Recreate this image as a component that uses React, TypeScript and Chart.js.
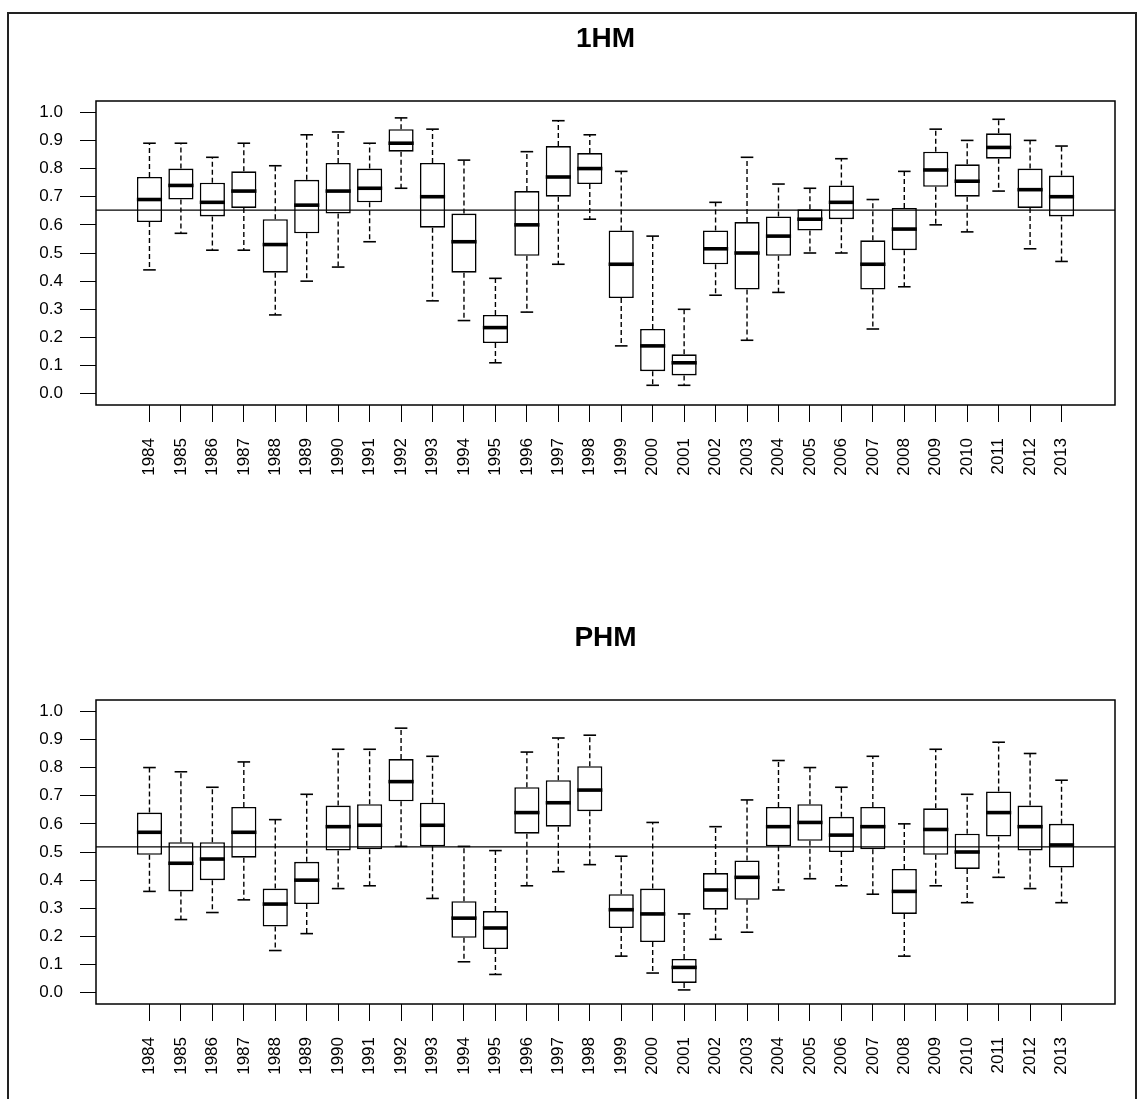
import React, { useEffect, useRef } from "react";
import { Chart, registerables } from "chart.js";

Chart.register(...registerables);

const years = [
  "1984", "1985", "1986", "1987", "1988", "1989", "1990", "1991", "1992", "1993",
  "1994", "1995", "1996", "1997", "1998", "1999", "2000", "2001", "2002", "2003",
  "2004", "2005", "2006", "2007", "2008", "2009", "2010", "2011", "2012", "2013",
];
const yTicks = [0, 0.1, 0.2, 0.3, 0.4, 0.5, 0.6, 0.7, 0.8, 0.9, 1.0];

// 1HM
const hmMin = [0.44, 0.57, 0.51, 0.51, 0.28, 0.40, 0.45, 0.54, 0.73, 0.33, 0.26, 0.11, 0.29, 0.46, 0.62, 0.17, 0.03, 0.03, 0.35, 0.19, 0.36, 0.50, 0.50, 0.23, 0.38, 0.60, 0.575, 0.72, 0.515, 0.47];
const hmQ1 = [0.61, 0.69, 0.63, 0.66, 0.43, 0.57, 0.64, 0.68, 0.86, 0.59, 0.43, 0.18, 0.49, 0.70, 0.745, 0.34, 0.08, 0.065, 0.46, 0.37, 0.49, 0.58, 0.62, 0.37, 0.51, 0.735, 0.70, 0.835, 0.66, 0.63];
const hmMed = [0.69, 0.74, 0.68, 0.72, 0.53, 0.67, 0.72, 0.73, 0.89, 0.70, 0.54, 0.235, 0.60, 0.77, 0.80, 0.46, 0.17, 0.11, 0.515, 0.50, 0.56, 0.62, 0.68, 0.46, 0.585, 0.795, 0.755, 0.875, 0.725, 0.70];
const hmQ3 = [0.77, 0.80, 0.75, 0.79, 0.62, 0.76, 0.82, 0.80, 0.94, 0.82, 0.64, 0.28, 0.72, 0.88, 0.855, 0.58, 0.23, 0.14, 0.58, 0.61, 0.63, 0.655, 0.74, 0.545, 0.66, 0.86, 0.815, 0.925, 0.80, 0.775];
const hmMax = [0.89, 0.89, 0.84, 0.89, 0.81, 0.92, 0.93, 0.89, 0.98, 0.94, 0.83, 0.41, 0.86, 0.97, 0.92, 0.79, 0.56, 0.30, 0.68, 0.84, 0.745, 0.73, 0.835, 0.69, 0.79, 0.94, 0.90, 0.975, 0.90, 0.88];
const hmRef = 0.652;

// PHM
const phMin = [0.36, 0.26, 0.285, 0.33, 0.15, 0.21, 0.37, 0.38, 0.52, 0.335, 0.11, 0.065, 0.38, 0.43, 0.455, 0.13, 0.07, 0.01, 0.19, 0.215, 0.365, 0.405, 0.38, 0.35, 0.13, 0.38, 0.32, 0.41, 0.37, 0.32];
const phQ1 = [0.49, 0.36, 0.40, 0.48, 0.235, 0.315, 0.505, 0.51, 0.68, 0.52, 0.195, 0.155, 0.565, 0.59, 0.645, 0.23, 0.18, 0.035, 0.295, 0.33, 0.52, 0.54, 0.50, 0.51, 0.28, 0.49, 0.44, 0.555, 0.505, 0.445];
const phMed = [0.57, 0.46, 0.475, 0.57, 0.315, 0.40, 0.59, 0.595, 0.75, 0.595, 0.265, 0.23, 0.64, 0.675, 0.72, 0.295, 0.28, 0.09, 0.365, 0.41, 0.59, 0.605, 0.56, 0.59, 0.36, 0.58, 0.50, 0.64, 0.59, 0.525];
const phQ3 = [0.64, 0.535, 0.535, 0.66, 0.37, 0.465, 0.665, 0.67, 0.83, 0.675, 0.325, 0.29, 0.73, 0.755, 0.805, 0.35, 0.37, 0.12, 0.425, 0.47, 0.66, 0.67, 0.625, 0.66, 0.44, 0.655, 0.565, 0.715, 0.665, 0.60];
const phMax = [0.80, 0.785, 0.73, 0.82, 0.615, 0.705, 0.865, 0.865, 0.94, 0.84, 0.52, 0.505, 0.855, 0.905, 0.915, 0.485, 0.605, 0.28, 0.59, 0.685, 0.825, 0.80, 0.73, 0.84, 0.60, 0.865, 0.705, 0.89, 0.85, 0.755];
const phRef = 0.518;

const xMin = -0.7;
const xMax = 31.7;
const yMin = -0.04;
const yMax = 1.04;

const FONT = "'Liberation Sans', Arial, Helvetica, sans-serif";

const framePlugin = {
  id: "frame",
  afterDatasetsDraw(chart: any) {
    const { ctx, chartArea } = chart;
    ctx.save();
    ctx.strokeStyle = "#000";
    ctx.lineWidth = 1.5;
    ctx.strokeRect(chartArea.left, chartArea.top, chartArea.right - chartArea.left, chartArea.bottom - chartArea.top);
    ctx.restore();
  },
};

type PanelProps = {
  title: string;
  mins: number[];
  q1s: number[];
  meds: number[];
  q3s: number[];
  maxs: number[];
  refValue: number;
  top: number;
};

function BoxPanel({ title, mins, q1s, meds, q3s, maxs, refValue, top }: PanelProps) {
  const ref = useRef<HTMLCanvasElement>(null);
  useEffect(() => {
    if (!ref.current) return;
    const positions = years.map((_, i) => i + 1);
    const whiskers: any[] = [];
    positions.forEach((x, i) => {
      whiskers.push({ x, y: q3s[i] }, { x, y: maxs[i] }, { x, y: null });
      whiskers.push({ x, y: q1s[i] }, { x, y: mins[i] }, { x, y: null });
    });
    const caps: any[] = [];
    positions.forEach((x, i) => {
      caps.push({ x, y: mins[i] }, { x, y: maxs[i] });
    });
    const chart = new Chart(ref.current, {
      type: "bar",
      data: {
        datasets: [
          {
            type: "line",
            data: [{ x: xMin, y: refValue }, { x: xMax, y: refValue }],
            borderColor: "#000",
            borderWidth: 1.3,
            pointRadius: 0,
            order: 0,
          } as any,
          {
            type: "line",
            data: positions.map((x, i) => ({ x, y: meds[i] })),
            showLine: false,
            pointStyle: "line",
            pointRadius: 12.6,
            pointBorderWidth: 3.6,
            pointBorderColor: "#000",
            order: 1,
          } as any,
          {
            type: "line",
            data: caps,
            showLine: false,
            pointStyle: "line",
            pointRadius: 6.3,
            pointBorderWidth: 1.6,
            pointBorderColor: "#000",
            order: 2,
          } as any,
          {
            type: "bar",
            data: positions.map((x, i) => ({ x, y: [q1s[i], q3s[i]] })),
            backgroundColor: "#fff",
            borderColor: "#000",
            borderWidth: 1.6,
            borderSkipped: false,
            barPercentage: 0.8,
            categoryPercentage: 1,
            order: 3,
          } as any,
          {
            type: "line",
            data: whiskers,
            borderColor: "#000",
            borderWidth: 1.4,
            borderDash: [5, 3],
            pointRadius: 0,
            spanGaps: false,
            order: 4,
          } as any,
        ],
      },
      options: {
        responsive: false,
        animation: false,
        events: [],
        layout: { padding: { top: 0, left: 0, right: 22, bottom: 0 } },
        plugins: {
          legend: { display: false },
          tooltip: { enabled: false },
          title: {
            display: true,
            text: title,
            fullSize: false,
            color: "#000",
            font: { family: FONT, size: 28, weight: "bold", lineHeight: 1.2 },
            padding: { top: 22, bottom: 45.4 },
          },
        },
        scales: {
          x: {
            type: "linear",
            min: xMin,
            max: xMax,
            offset: false,
            afterBuildTicks: (s: any) => {
              s.ticks = positions.map((v) => ({ value: v }));
            },
            afterFit: (s: any) => {
              s.height = 95;
            },
            border: { display: false },
            grid: {
              offset: false,
              drawOnChartArea: false,
              drawTicks: true,
              tickLength: 17,
              color: "#000",
              lineWidth: 1,
            },
            ticks: {
              autoSkip: false,
              minRotation: 90,
              maxRotation: 90,
              padding: 16,
              color: "#000",
              font: { family: FONT, size: 17 },
              callback: (v: any) => years[Math.round(Number(v)) - 1] ?? "",
            },
          },
          y: {
            type: "linear",
            min: yMin,
            max: yMax,
            afterBuildTicks: (s: any) => {
              s.ticks = yTicks.map((v) => ({ value: v }));
            },
            afterFit: (s: any) => {
              s.width = 96;
            },
            border: { display: false },
            grid: {
              drawOnChartArea: false,
              drawTicks: true,
              tickLength: 16,
              color: "#000",
              lineWidth: 1,
            },
            ticks: {
              padding: 17,
              color: "#000",
              font: { family: FONT, size: 17 },
              callback: (v: any) => Number(v).toFixed(1),
            },
          },
        },
      },
      plugins: [framePlugin],
    } as any);
    return () => chart.destroy();
  }, []);
  return (
    <canvas
      ref={ref}
      width={1137}
      height={500}
      style={{ position: "absolute", left: 0, top, width: 1137, height: 500 }}
    />
  );
}

export default function App() {
  return (
    <div
      style={{
        position: "absolute",
        left: 0,
        top: 0,
        width: 1137,
        height: 1099,
        overflow: "hidden",
        background: "#fff",
      }}
    >
      <div
        style={{
          position: "absolute",
          left: 7,
          top: 12,
          width: 1126,
          height: 1200,
          border: "2px solid #222",
        }}
      />
      <BoxPanel title="1HM" mins={hmMin} q1s={hmQ1} meds={hmMed} q3s={hmQ3} maxs={hmMax} refValue={hmRef} top={0} />
      <BoxPanel title="PHM" mins={phMin} q1s={phQ1} meds={phMed} q3s={phQ3} maxs={phMax} refValue={phRef} top={599} />
    </div>
  );
}
